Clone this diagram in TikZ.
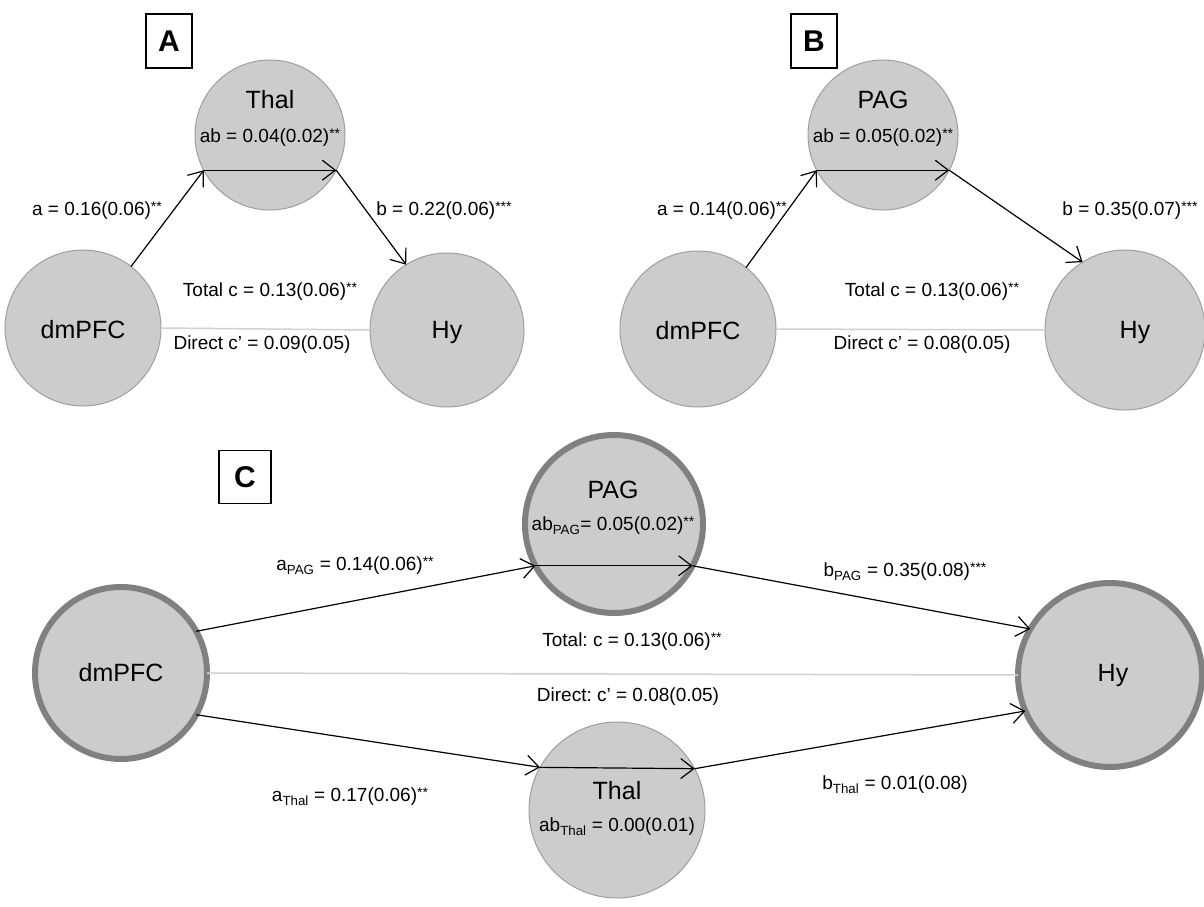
\documentclass[tikz,border=0pt]{standalone}
\usepackage{fontspec}
\setmainfont{Liberation Sans}
\usetikzlibrary{arrows.meta}
\definecolor{nodefill}{gray}{0.80}
\definecolor{thinring}{gray}{0.62}
\definecolor{thickring}{gray}{0.50}
\definecolor{totline}{gray}{0.82}
\tikzset{
  circthin/.style={circle,draw=thinring,line width=1pt,fill=nodefill,inner sep=0pt,outer sep=0pt,minimum size=#1},
  circthick/.style={circle,draw=thickring,line width=6pt,fill=nodefill,inner sep=0pt,outer sep=0pt,minimum size=#1},
  bigtxt/.style={font=\fontsize{25}{28}\selectfont,inner sep=0pt},
  lab/.style={font=\fontsize{19}{22}\selectfont,inner sep=0pt},
  panelbox/.style={draw=black,line width=1.3pt,fill=white,minimum width=46pt,minimum height=54pt,inner sep=0pt,font=\fontsize{30}{32}\selectfont\bfseries},
  path/.style={draw=black,line width=1.2pt,-{Straight Barb[length=13pt,width=20pt,line width=1.2pt]}},
  totalline/.style={draw=totline,line width=1.5pt}
}
\newcommand{\st}[1]{\raisebox{4pt}{\fontsize{14}{14}\selectfont #1}}
\frenchspacing
\begin{document}
\begin{tikzpicture}[x=1pt,y=-1pt]
\useasboundingbox (0,0) rectangle (1204,907);
\fill[white] (0,0) rectangle (1204,907);

% ---------------- Panel A ----------------
\node[panelbox] (boxA) at (169,41) {A};
\node[circthin=150pt] (thA) at (270,135) {};
\node[circthin=156pt] (dmA) at (83,328) {};
\node[circthin=154pt] (hyA) at (447,330) {};
\node[bigtxt] (thAt) at (270,100) {Thal};
\node[lab] (thAab) at (270,138) {ab = 0.04(0.02)\st{**}};
\node[bigtxt] (dmAt) at (83,330) {dmPFC};
\node[bigtxt] (hyAt) at (447,332) {Hy};
\draw[totalline] (dmA.east) -- (hyA.west);
\draw[path] (dmA.52) -- (thA.208);
\draw[path] (thA.208) -- (thA.332);
\draw[path] (thA.332) -- (hyA.122);
\node[lab] (laA) at (97,211) {a = 0.16(0.06)\st{**}};
\node[lab] (lbA) at (444,211) {b = 0.22(0.06)\st{***}};
\node[lab] (ltA) at (270,292) {Total c = 0.13(0.06)\st{**}};
\node[lab] (ldA) at (262,345) {Direct c’ = 0.09(0.05)};

% ---------------- Panel B ----------------
\node[panelbox] (boxB) at (814,41) {B};
\node[circthin=150pt] (paB) at (883,135) {};
\node[circthin=156pt] (dmB) at (698,329) {};
\node[circthin=160pt] (hyB) at (1125,330) {};
\node[bigtxt] (paBt) at (883,100) {PAG};
\node[lab] (paBab) at (883,138) {ab = 0.05(0.02)\st{**}};
\node[bigtxt] (dmBt) at (698,331) {dmPFC};
\node[bigtxt] (hyBt) at (1135,332) {Hy};
\draw[totalline] (dmB.east) -- (hyB.west);
\draw[path] (dmB.52) -- (paB.208);
\draw[path] (paB.208) -- (paB.332);
\draw[path] (paB.332) -- (hyB.122);
\node[lab] (laB) at (722,211) {a = 0.14(0.06)\st{**}};
\node[lab] (lbB) at (1130,211) {b = 0.35(0.07)\st{***}};
\node[lab] (ltB) at (932,292) {Total c = 0.13(0.06)\st{**}};
\node[lab] (ldB) at (922,345) {Direct c’ = 0.08(0.05)};

% ---------------- Panel C ----------------
\node[panelbox,minimum width=52pt,minimum height=53pt] (boxC) at (245,477) {C};
\node[circthick=172pt] (dmC) at (121,673) {};
\node[circthick=178pt] (paC) at (614,524) {};
\node[circthick=184pt] (hyC) at (1110,675) {};
\node[circthin=176pt] (thC) at (617,810) {};
\node[bigtxt] (dmCt) at (121,673) {dmPFC};
\node[bigtxt] (hyCt) at (1113,675) {Hy};
\node[bigtxt] (paCt) at (613,490) {PAG};
\node[lab] (paCab) at (613,526) {ab\textsubscript{PAG}= 0.05(0.02)\st{**}};
\node[bigtxt] (thCt) at (617,791) {Thal};
\node[lab] (thCab) at (617,827) {ab\textsubscript{Thal} = 0.00(0.01)};
\draw[totalline] (dmC.east) -- (hyC.west);
\draw[path] (dmC.29) -- (paC.208);
\draw[path] (paC.208) -- (paC.332);
\draw[path] (paC.332) -- (hyC.150);
\draw[path] (dmC.331) -- (thC.151.5);
\draw[path] (thC.151.5) -- (thC.28.5);
\draw[path] (thC.28.5) -- (hyC.203);
\node[lab] (laC) at (355,566) {a\textsubscript{PAG} = 0.14(0.06)\st{**}};
\node[lab] (lbC) at (905,572) {b\textsubscript{PAG} = 0.35(0.08)\st{***}};
\node[lab] (ltC) at (632,642) {Total: c = 0.13(0.06)\st{**}};
\node[lab] (ldC) at (628,697) {Direct: c’ = 0.08(0.05)};
\node[lab] (laTC) at (350,797) {a\textsubscript{Thal} = 0.17(0.06)\st{**}};
\node[lab] (lbTC) at (895,785) {b\textsubscript{Thal} = 0.01(0.08)};
\end{tikzpicture}
\end{document}
